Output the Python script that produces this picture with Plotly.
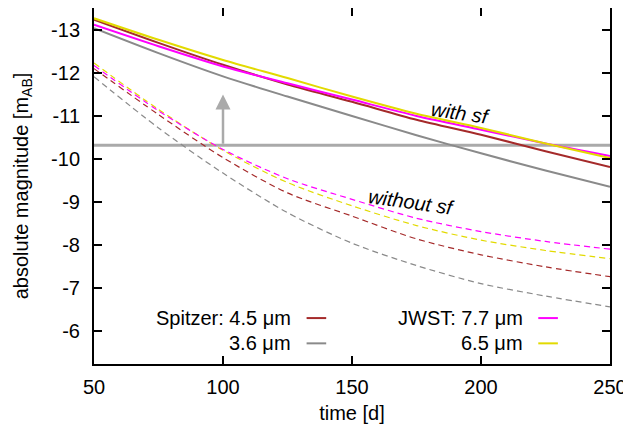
import plotly.graph_objects as go

# time grid [d]
days = [50, 75, 100, 125, 150, 175, 200, 225, 250]

# with star formation (solid)
sf_spitzer_45 = [-13.24, -12.70, -12.19, -11.73, -11.33, -10.91, -10.56, -10.18, -9.81]
sf_spitzer_36 = [-13.04, -12.46, -11.92, -11.45, -11.00, -10.55, -10.13, -9.73, -9.35]
sf_jwst_77 = [-13.12, -12.62, -12.15, -11.76, -11.38, -11.00, -10.68, -10.36, -10.07]
sf_jwst_65 = [-13.27, -12.77, -12.30, -11.88, -11.45, -11.05, -10.72, -10.36, -10.02]

# without star formation (dashed)
nosf_spitzer_45 = [-12.10, -11.03, -10.03, -9.21, -8.67, -8.14, -7.77, -7.49, -7.26]
nosf_spitzer_36 = [-11.91, -10.72, -9.67, -8.75, -8.04, -7.52, -7.10, -6.81, -6.56]
nosf_jwst_77 = [-12.17, -11.12, -10.22, -9.54, -9.06, -8.62, -8.31, -8.08, -7.90]
nosf_jwst_65 = [-12.23, -11.15, -10.20, -9.45, -8.91, -8.45, -8.11, -7.87, -7.68]

threshold_mag = -10.32
arrow_day = 100
arrow_tip_mag = -11.5

x_ticks = [50, 100, 150, 200, 250]
y_ticks = [-13, -12, -11, -10, -9, -8, -7, -6]
y_tick_labels = ["-13", "-12", "-11", "-10", "-9", "-8", "-7", "-6"]

C_RED = "#a52a2a"
C_GRAY = "#8a8a8a"
C_MAG = "#ff00ff"
C_YEL = "#e2da00"

FONT = "Liberation Sans, Arial, sans-serif"
FS = 20

fig = go.Figure()

solid = [(sf_spitzer_36, C_GRAY), (sf_spitzer_45, C_RED), (sf_jwst_77, C_MAG), (sf_jwst_65, C_YEL)]
dashed = [(nosf_spitzer_36, C_GRAY), (nosf_spitzer_45, C_RED), (nosf_jwst_65, C_YEL), (nosf_jwst_77, C_MAG)]

for vals, col in dashed:
    fig.add_trace(go.Scatter(x=days, y=vals, mode="lines",
                             line=dict(color=col, width=1.2, dash="6px,4px", shape="spline", smoothing=0.8),
                             showlegend=False, hoverinfo="skip"))
for vals, col in solid:
    fig.add_trace(go.Scatter(x=days, y=vals, mode="lines",
                             line=dict(color=col, width=2, shape="spline", smoothing=0.8),
                             showlegend=False, hoverinfo="skip"))

# horizontal threshold line
fig.add_shape(type="line", xref="paper", x0=0, x1=1, yref="y", y0=threshold_mag, y1=threshold_mag,
              line=dict(color="#aaaaaa", width=3), layer="below")

# arrow
fig.add_annotation(x=arrow_day, y=arrow_tip_mag, ax=arrow_day, ay=threshold_mag,
                   xref="x", yref="y", axref="x", ayref="y", text="", showarrow=True,
                   arrowhead=2, arrowsize=1.2, arrowwidth=2.5, arrowcolor="#aaaaaa")

# curve labels
fig.add_annotation(x=192, y=-11.06, text="<i>with sf</i>", showarrow=False, textangle=8,
                   font=dict(family=FONT, size=FS, color="black"))
fig.add_annotation(x=173, y=-9.0, text="<i>without sf</i>", showarrow=False, textangle=8,
                   font=dict(family=FONT, size=FS, color="black"))

# legend (manual, gnuplot style: text right, sample on the right)
legend_items = [
    ("Spitzer: 4.5 μm", C_RED, 0.386, 0.129, 0.412, 0.450),
    ("3.6 μm", C_GRAY, 0.386, 0.058, 0.412, 0.450),
    ("JWST: 7.7 μm", C_MAG, 0.835, 0.129, 0.861, 0.899),
    ("6.5 μm", C_YEL, 0.835, 0.058, 0.861, 0.899),
]
for txt, col, tx, ty, lx0, lx1 in legend_items:
    fig.add_annotation(x=tx, y=ty, xref="paper", yref="paper", text=txt, showarrow=False,
                       xanchor="right", yanchor="middle", font=dict(family=FONT, size=FS, color="black"))
    fig.add_shape(type="line", xref="paper", yref="paper", x0=lx0, x1=lx1, y0=ty, y1=ty,
                  line=dict(color=col, width=2))

axis_common = dict(showline=True, linecolor="black", linewidth=2, mirror="ticks",
                   ticks="inside", ticklen=8, tickwidth=1.5, tickcolor="black",
                   showgrid=False, zeroline=False, automargin=False,
                   tickfont=dict(family=FONT, size=FS, color="black"))

fig.update_xaxes(range=[50, 250], tickvals=x_ticks, ticktext=[str(v) for v in x_ticks],
                 title=dict(text="time [d]", font=dict(family=FONT, size=FS, color="black"), standoff=9),
                 ticklabelstandoff=4, **axis_common)
fig.update_yaxes(range=[-5.23, -13.51], tickvals=y_ticks, ticktext=y_tick_labels,
                 title=dict(text="absolute magnitude [m<sub>AB</sub>]", font=dict(family=FONT, size=FS, color="black"), standoff=17),
                 ticklabelstandoff=8, **axis_common)

# page body has an 8px default margin; figure sized so the plot area lands where the reference has it
fig.update_layout(width=623, height=422, margin=dict(l=86, r=21, t=0, b=66),
                  plot_bgcolor="white", paper_bgcolor="white",
                  font=dict(family=FONT, size=FS, color="black"), showlegend=False)

fig.write_html("out.html")
